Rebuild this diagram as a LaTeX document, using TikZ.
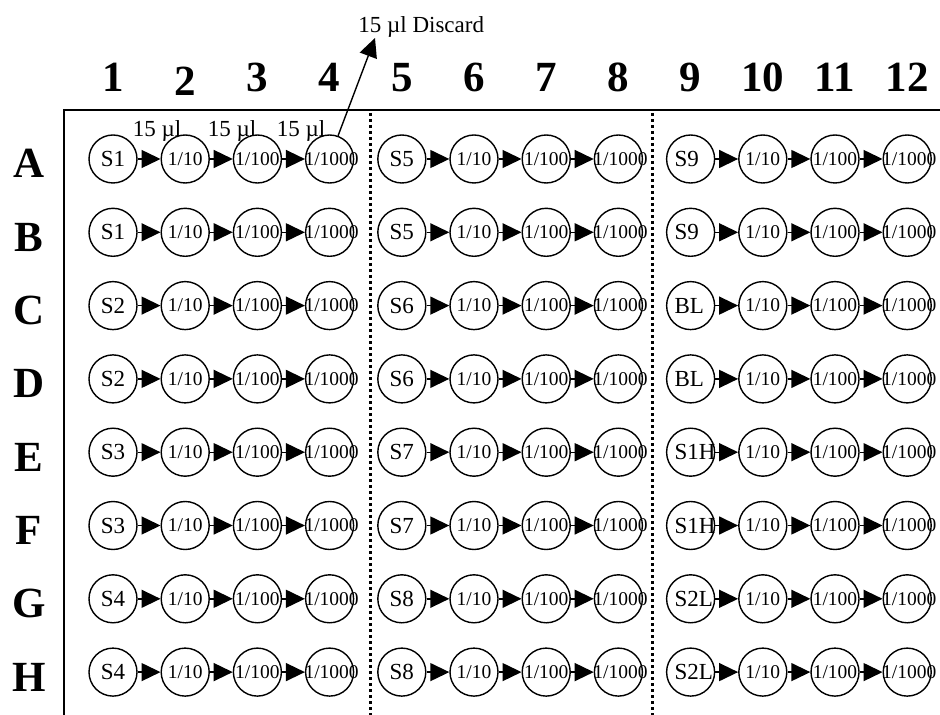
\documentclass[tikz,border=0pt]{standalone}
\usepackage{fontspec}
\setmainfont{Liberation Serif}
\usetikzlibrary{arrows.meta,positioning,calc}

\tikzset{
  well/.style={circle, draw, line width=0.7pt, minimum size=24pt, inner sep=0pt},
  flow/.style={line width=0.7pt, -{Triangle[length=9.5pt,width=9pt]}},
  sample/.style={font=\fontsize{11.5}{14}\selectfont},
  dilution/.style={font=\fontsize{9.75}{12}\selectfont},
  heading/.style={font=\fontsize{21.5}{26}\selectfont\bfseries},
  divider/.style={line width=1.5pt, dash pattern=on 1.5pt off 1.5pt}
}

\begin{document}
\begin{tikzpicture}[x=0.5pt, y=-0.5pt]
        \useasboundingbox (0,0) rectangle (940,715);

        % Plate frame
        \draw[line width=0.75pt] (64,715) -- (64,110) -- (940,110);

        % Dotted dividers between sample blocks
        \draw[divider] (370,113) -- (370,715);
        \draw[divider] (652,113) -- (652,715);

        % Column numbers
        \foreach \c/\dy in {1/0, 2/4, 3/0, 4/0, 5/0, 6/0, 7/0, 8/0, 9/0, 10/0, 11/0, 12/0}
            \node[heading, anchor=base] (col\c) at ({113+72.2*(\c-1)},92+\dy) {\c};

        % Rows of wells
        \foreach \rw/\sa/\sb/\sc [count=\j from 0] in {A/S1/S5/S9, B/S1/S5/S9, C/S2/S6/BL, D/S2/S6/BL,
                E/S3/S7/S1H, F/S3/S7/S1H, G/S4/S8/S2L, H/S4/S8/S2L} {
            \pgfmathsetmacro\y{159+73.3*\j}
            \node[heading, anchor=base] (row\rw) at (29,\y+19) {\rw};
            % sample wells
            \node[well, sample] (\rw1) at (113,\y) {\makebox[0pt]{\sa}};
            \node[well, sample] (\rw5) at (401.8,\y) {\makebox[0pt]{\sb}};
            \node[well, sample] (\rw9) at (690.6,\y) {\makebox[0pt][l]{\hspace{-8pt}\sc}};
            % dilution wells
            \foreach \c/\dil in {2/{1/10}, 3/{1/100}, 4/{\hspace{2pt}1/1000},
                    6/{1/10}, 7/{1/100}, 8/{\hspace{2pt}1/1000},
                    10/{1/10}, 11/{1/100}, 12/{\hspace{2pt}1/1000}}
                \node[well, dilution] (\rw\c) at ({113+72.2*(\c-1)},\y) {\makebox[0pt]{\dil}};
            % transfers
            \foreach \c [evaluate=\c as \d using int(\c+1)] in {1,2,3,5,6,7,9,10,11}
                \draw[flow] (\rw\c) -- (\rw\d);
        }

        % Transfer volumes
        \node[sample, anchor=base] (vol1) at (157,137) {15 µl};
        \node[sample, anchor=base] (vol2) at (232,137) {15 µl};
        \node[sample, anchor=base] (vol3) at (301,137) {15 µl};

        % Discard
        \node[sample, anchor=base west, inner sep=0pt] (discard) at (358,33) {15 µl Discard};
        \coordinate (disctip) at (375,38);
        \draw[flow] (A4.70) -- (disctip);
\end{tikzpicture}
\end{document}
